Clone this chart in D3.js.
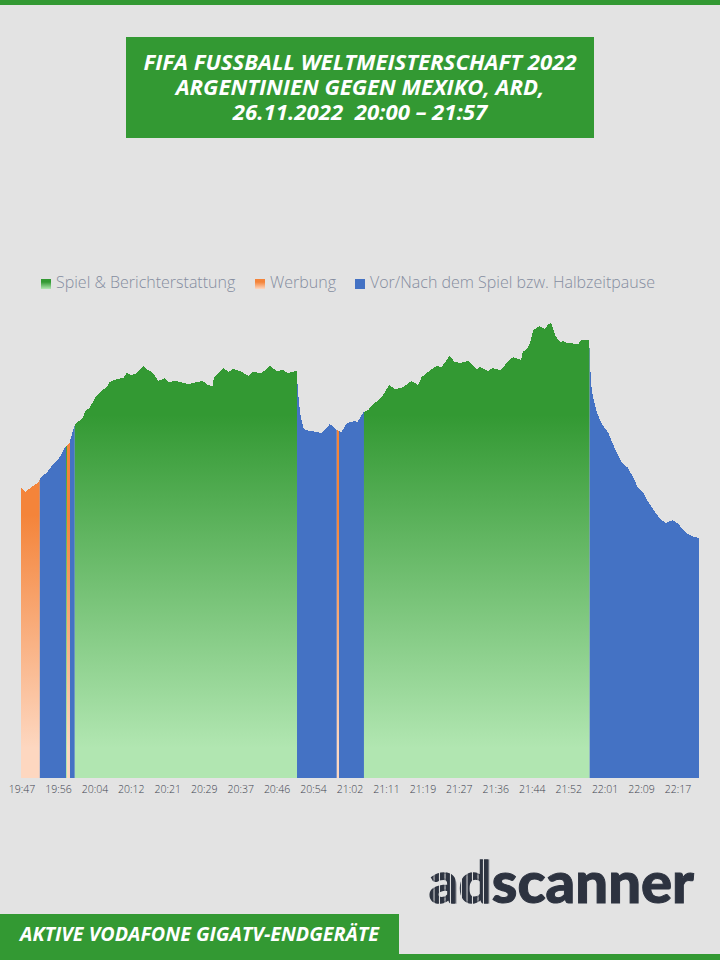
<!DOCTYPE html>
<html>
<head>
<meta charset="utf-8">
<script src="https://cdn.jsdelivr.net/npm/d3@7"></script>
<style>
    html, body { margin: 0; padding: 0; background: #e3e3e3; }
    svg { display: block; }
</style>
</head>
<body>
<div id="chart"></div>
<script>
const titleLines = [
    'FIFA FUSSBALL WELTMEISTERSCHAFT 2022',
    'ARGENTINIEN GEGEN MEXIKO, ARD,',
    '26.11.2022\u00a0 20:00 \u2013 21:57',
];
const footerLabel = 'AKTIVE VODAFONE GIGATV-ENDGER\u00c4TE';
const tickLabels = ['19:47', '19:56', '20:04', '20:12', '20:21', '20:29', '20:37', '20:46', '20:54', '21:02',
    '21:11', '21:19', '21:27', '21:36', '21:44', '21:52', '22:01', '22:09', '22:17'];

// minutes since the start of the chart, and the audience (relative, no value axis in the original)
const minutes = [0, 0.9, 2.1, 2.8, 4.0, 4.3, 6.2, 7.4, 8.9, 10.1, 11.0, 11.6, 12.3, 13.5, 14.2, 14.6, 15.8, 16.9,
    18.1, 19.6, 20.3, 21.9, 23.4, 24.2, 25.3, 26.5, 28.0, 28.7, 30.2, 31.4, 32.9, 33.7, 35.2, 36.4, 38.3, 40.2,
    41.5, 42.8, 43.8, 44.1, 44.7, 46.3, 47.4, 48.5, 50.1, 52.0, 52.8, 55.0, 56.9, 58.5, 59.8, 61.1, 63.0, 63.2,
    63.4, 63.8, 64.5, 65.0, 67.6, 68.7, 69.5, 70.6, 71.4, 72.5, 73.3, 74.5, 76.4, 76.9, 78.3, 79.4, 80.5, 82.1,
    83.2, 84.2, 85.5, 87.0, 89.3, 90.8, 91.6, 93.9, 95.0, 96.2, 97.9, 99.2, 100.4, 102.3, 104.2, 104.9, 106.8,
    107.8, 109.5, 110.3, 111.2, 112.5, 114.3, 114.7, 115.6, 116.4, 117.1, 118.5, 119.8, 120.6, 121.2, 122.1,
    123.2, 124.0, 124.9, 127.4, 128.0, 129.9, 130.1, 130.3, 130.8, 131.6, 132.8, 134.3, 135.4, 137.3, 138.8,
    140.0, 141.1, 142.3, 143.4, 144.6, 146.1, 147.5, 149.0, 150.3, 151.8, 153.3, 155.0];
const audience = [291, 286, 290, 292, 296, 299, 307, 314, 321, 331, 334, 343, 353, 358, 361, 366, 371, 380,
    386, 391, 396, 399, 400, 405, 403, 405, 412, 409, 405, 397, 400, 396, 397, 396, 394, 396,
    397, 393, 392, 400, 403, 410, 406, 409, 407, 402, 406, 405, 412, 407, 408, 405, 407, 395,
    383, 365, 351, 348, 346, 345, 348, 354, 351, 347, 346, 355, 357, 356, 366, 368, 374, 379,
    386, 393, 389, 390, 397, 393, 401, 409, 412, 411, 422, 416, 415, 417, 409, 411, 407,
    410, 408, 411, 416, 421, 418, 426, 429, 435, 448, 452, 449, 454, 455, 443,
    436, 437, 435, 434, 438, 438, 416, 395, 380, 366, 354, 345, 333, 316, 310,
    300, 290, 285, 276, 268, 259, 255, 258, 254, 246, 242, 240];

// programme blocks, start and end in minutes
const blockStarts = [0, 4.3, 10.3, 10.5, 11.2, 12.3, 63.1, 72.2, 72.7, 78.4, 130.0];
const blockEnds = [4.3, 10.3, 10.5, 11.2, 12.3, 63.1, 72.2, 72.7, 78.4, 130.0, 155];
const blockTypes = ['werbung', 'pause', 'spiel', 'werbung', 'pause', 'spiel', 'pause', 'werbung', 'pause', 'spiel', 'pause'];

const legendNames = ['Spiel & Berichterstattung', 'Werbung', 'Vor/Nach dem Spiel bzw. Halbzeitpause'];
const legendTypes = ['spiel', 'werbung', 'pause'];

const width = 720;
const height = 960;
const fontName = '"Open Sans", sans-serif';
const fills = { spiel: 'url(#gradSpiel)', werbung: 'url(#gradWerbung)', pause: '#4472c4' };
const swatches = { spiel: 'url(#swatchSpiel)', werbung: 'url(#swatchWerbung)', pause: '#4472c4' };

const svg = d3.select('#chart').append('svg').attr('width', width).attr('height', height);
svg.append('rect').attr('width', width).attr('height', height).attr('fill', '#e3e3e3');

const defs = svg.append('defs');

function addGradient(id, stops, inUserSpace) {
    const g = defs.append('linearGradient').attr('id', id)
        .attr('x1', 0).attr('x2', 0);
    if (inUserSpace) {
        g.attr('gradientUnits', 'userSpaceOnUse').attr('y1', 415).attr('y2', 748);
    } else {
        g.attr('y1', 0).attr('y2', 1);
    }
    stops.forEach((s) => g.append('stop').attr('offset', s[0]).attr('stop-color', s[1]));
}
addGradient('gradSpiel', [[0, '#339933'], [1, '#b1e6b1']], true);
addGradient('gradWerbung', [[0, '#f4843a'], [0.3, '#f4843a'], [1, '#fdd7c0']], true);
addGradient('swatchSpiel', [[0.3, '#339933'], [1, '#b1e6b1']], false);
addGradient('swatchWerbung', [[0.3, '#f4843a'], [1, '#fdd7c0']], false);

// frame bars
svg.append('rect').attr('width', width).attr('height', 5).attr('fill', '#339933');
svg.append('rect').attr('y', 954).attr('width', width).attr('height', 6).attr('fill', '#339933');

// title, one text element with a tspan per line
svg.append('rect').attr('x', 126).attr('y', 37).attr('width', 468).attr('height', 101).attr('fill', '#339933');
svg.append('text')
    .attr('text-anchor', 'middle')
    .attr('fill', '#ffffff')
    .style('font-family', fontName)
    .style('font-size', '22.2px')
    .style('font-weight', 700)
    .style('font-style', 'italic')
    .selectAll('tspan')
    .data(titleLines)
    .enter()
    .append('tspan')
    .attr('x', 360)
    .attr('y', (d, i) => 69.5 + i * 25.2)
    .text((d) => d);

// legend
const legendX = [41, 255, 355];
const legend = svg.selectAll('.legend')
    .data(legendNames)
    .enter()
    .append('g')
    .attr('class', 'legend')
    .attr('transform', (d, i) => `translate(${legendX[i]},279)`);
legend.append('rect')
    .attr('width', 10)
    .attr('height', 10)
    .attr('fill', (d, i) => swatches[legendTypes[i]]);
legend.append('text')
    .attr('x', 15)
    .attr('y', 9)
    .attr('fill', '#858da0')
    .style('font-family', fontName)
    .style('font-size', '16px')
    .style('font-weight', 300)
    .text((d) => d);

// scales
const x = d3.scaleLinear().domain([0, 155]).range([21, 699]);
const y = d3.scaleLinear().domain([0, 500]).range([778, 278]);
const xTicks = d3.scalePoint().domain(tickLabels).range([21.5, 677.5]);

const area = d3.area()
    .x((d) => x(d[0]))
    .y0(y(0))
    .y1((d) => y(d[1]));
const series = d3.zip(minutes, audience);

// one clip per programme block, all share the same outline
blockStarts.forEach((start, i) => {
    defs.append('clipPath')
        .attr('id', 'block' + i)
        .append('rect')
        .attr('x', x(start))
        .attr('y', 0)
        .attr('width', x(blockEnds[i]) - x(start))
        .attr('height', height);
    svg.append('path')
        .datum(series)
        .attr('clip-path', `url(#block${i})`)
        .attr('fill', fills[blockTypes[i]])
        .attr('shape-rendering', 'crispEdges')
        .attr('d', area);
});

// time axis
const axis = svg.append('g')
    .attr('transform', 'translate(0,778)')
    .call(d3.axisBottom(xTicks).tickSize(0).tickPadding(8));
axis.select('.domain').remove();
axis.selectAll('text')
    .attr('fill', '#3f4450')
    .style('font-family', fontName)
    .style('font-size', '10.5px')
    .style('font-weight', 300);

// footer label
svg.append('rect').attr('y', 914).attr('width', 399).attr('height', 46).attr('fill', '#339933');
svg.append('text')
    .attr('x', 20)
    .attr('y', 941)
    .attr('fill', '#ffffff')
    .attr('textLength', 359)
    .attr('lengthAdjust', 'spacingAndGlyphs')
    .style('font-family', fontName)
    .style('font-size', '20px')
    .style('font-weight', 700)
    .style('font-style', 'italic')
    .text(footerLabel);

// logo, the "ad" part is striped
const stripes = defs.append('pattern')
    .attr('id', 'logoStripes')
    .attr('patternUnits', 'userSpaceOnUse')
    .attr('width', 5.5)
    .attr('height', 6);
stripes.append('rect').attr('width', 4.5).attr('height', 6).attr('fill', '#2d3340');

const logo = svg.append('text')
    .attr('x', 429)
    .attr('y', 903)
    .style('font-family', 'Lato, sans-serif')
    .style('font-size', '58px')
    .style('font-weight', 900);
logo.append('tspan')
    .attr('fill', 'url(#logoStripes)')
    .attr('stroke', 'url(#logoStripes)')
    .attr('stroke-width', 1.5)
    .text('ad');
logo.append('tspan')
    .attr('fill', '#2d3340')
    .attr('stroke', '#2d3340')
    .attr('stroke-width', 1)
    .text('scanner');
</script>
</body>
</html>
